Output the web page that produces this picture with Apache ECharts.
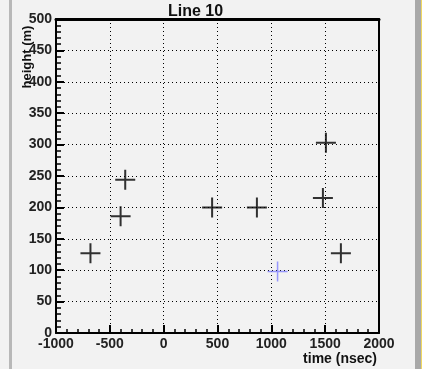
<!DOCTYPE html>
<html>
<head>
<meta charset="utf-8">
<script src="https://cdn.jsdelivr.net/npm/echarts@6/dist/echarts.min.js"></script>
<style>
html,body{margin:0;padding:0;background:#f2f2f2;}
#c{width:422px;height:369px;}
</style>
</head>
<body>
<div id="c"></div>
<script>
const titleText = "Line 10";
const xName = "time (nsec)";
const yName = "height (m)";
const blackPoints = [
  [-680, 127], [-400, 186], [-357, 244], [450, 200], [866, 200],
  [1479, 215], [1507, 303], [1646, 127]
];
const bluePoints = [[1058, 98]];
const xMin = -1000, xMax = 2000, xStep = 500;
const yMin = 0, yMax = 500, yStep = 50;

const cross = 'path://M0,9 H20 V11 H0 Z M9,0 H11 V20 H9 Z';
const crossThin = 'path://M0,9.25 H20 V10.75 H0 Z M9.25,0 H10.75 V20 H9.25 Z';
const font = 'Liberation Sans, Arial, Helvetica, sans-serif';
const plain = v => String(v);

const chart = echarts.init(document.getElementById('c'), null, {renderer: 'canvas'});
chart.setOption({
  backgroundColor: '#f2f2f2',
  animation: false,
  title: {
    text: titleText, left: 163, top: -1,
    textStyle: {fontFamily: font, fontWeight: 'bold', fontSize: 16, color: '#111'}
  },
  grid: {left: 56, top: 19, right: 43, bottom: 36, containLabel: false, outerBoundsMode: 'none'},
  graphic: [
    {type: 'rect', shape: {x: 9, y: 0, width: 3, height: 369}, style: {fill: '#b8b8b8'}, silent: true},
    {type: 'rect', shape: {x: 415, y: 0, width: 6, height: 369}, style: {fill: '#a9a9a9'}, silent: true},
    {type: 'rect', shape: {x: 421, y: 0, width: 1, height: 369}, style: {fill: '#f0d860'}, silent: true}
  ],
  xAxis: [{
    type: 'value', min: xMin, max: xMax, interval: xStep, position: 'bottom',
    name: xName, nameLocation: 'end', nameGap: -2, nameMoveOverlap: false,
    nameTextStyle: {fontFamily: font, fontWeight: 'bold', fontSize: 14, color: '#111', align: 'right', verticalAlign: 'top', padding: [19, 0, 0, 0]},
    axisLine: {onZero: false, lineStyle: {color: '#000', width: 2}},
    axisTick: {inside: true, length: 8, lineStyle: {color: '#000', width: 2}},
    minorTick: {show: true, splitNumber: 5, length: 4, lineStyle: {color: '#000', width: 1.5}},
    axisLabel: {fontFamily: font, fontWeight: 'bold', fontSize: 14, color: '#222', margin: 4, formatter: plain},
    splitLine: {show: true, lineStyle: {color: '#000', type: [1, 3], width: 1}}
  }, {
    type: 'value', min: xMin, max: xMax, interval: xStep, position: 'top',
    axisLine: {onZero: false, lineStyle: {color: '#000', width: 3}},
    axisTick: {show: false}, axisLabel: {show: false}, splitLine: {show: false}
  }],
  yAxis: [{
    type: 'value', min: yMin, max: yMax, interval: yStep, position: 'left',
    name: yName, nameLocation: 'middle', nameGap: 22, nameRotate: 90, nameMoveOverlap: false,
    nameTextStyle: {fontFamily: font, fontWeight: 'bold', fontSize: 13, color: '#111', padding: [0, 0, 0, 238]},
    axisLine: {onZero: false, lineStyle: {color: '#000', width: 2}},
    axisTick: {inside: true, length: 8, lineStyle: {color: '#000', width: 2}},
    minorTick: {show: true, splitNumber: 5, length: 5, lineStyle: {color: '#000', width: 1.5}},
    axisLabel: {fontFamily: font, fontWeight: 'bold', fontSize: 14, color: '#222', margin: 4, formatter: plain},
    splitLine: {show: true, lineStyle: {color: '#000', type: [1, 3], width: 1}}
  }, {
    type: 'value', min: yMin, max: yMax, interval: yStep, position: 'right',
    axisLine: {show: true, onZero: false, lineStyle: {color: '#000', width: 2}},
    axisTick: {show: false}, axisLabel: {show: false}, splitLine: {show: false}
  }],
  series: [{
    type: 'scatter', data: blackPoints, symbol: cross, symbolSize: [20, 20],
    itemStyle: {color: '#000'}, xAxisIndex: 0, yAxisIndex: 0
  }, {
    type: 'scatter', data: bluePoints, symbol: crossThin, symbolSize: [20, 20],
    itemStyle: {color: '#7f7fff'}, xAxisIndex: 0, yAxisIndex: 0
  }]
});
</script>
</body>
</html>
